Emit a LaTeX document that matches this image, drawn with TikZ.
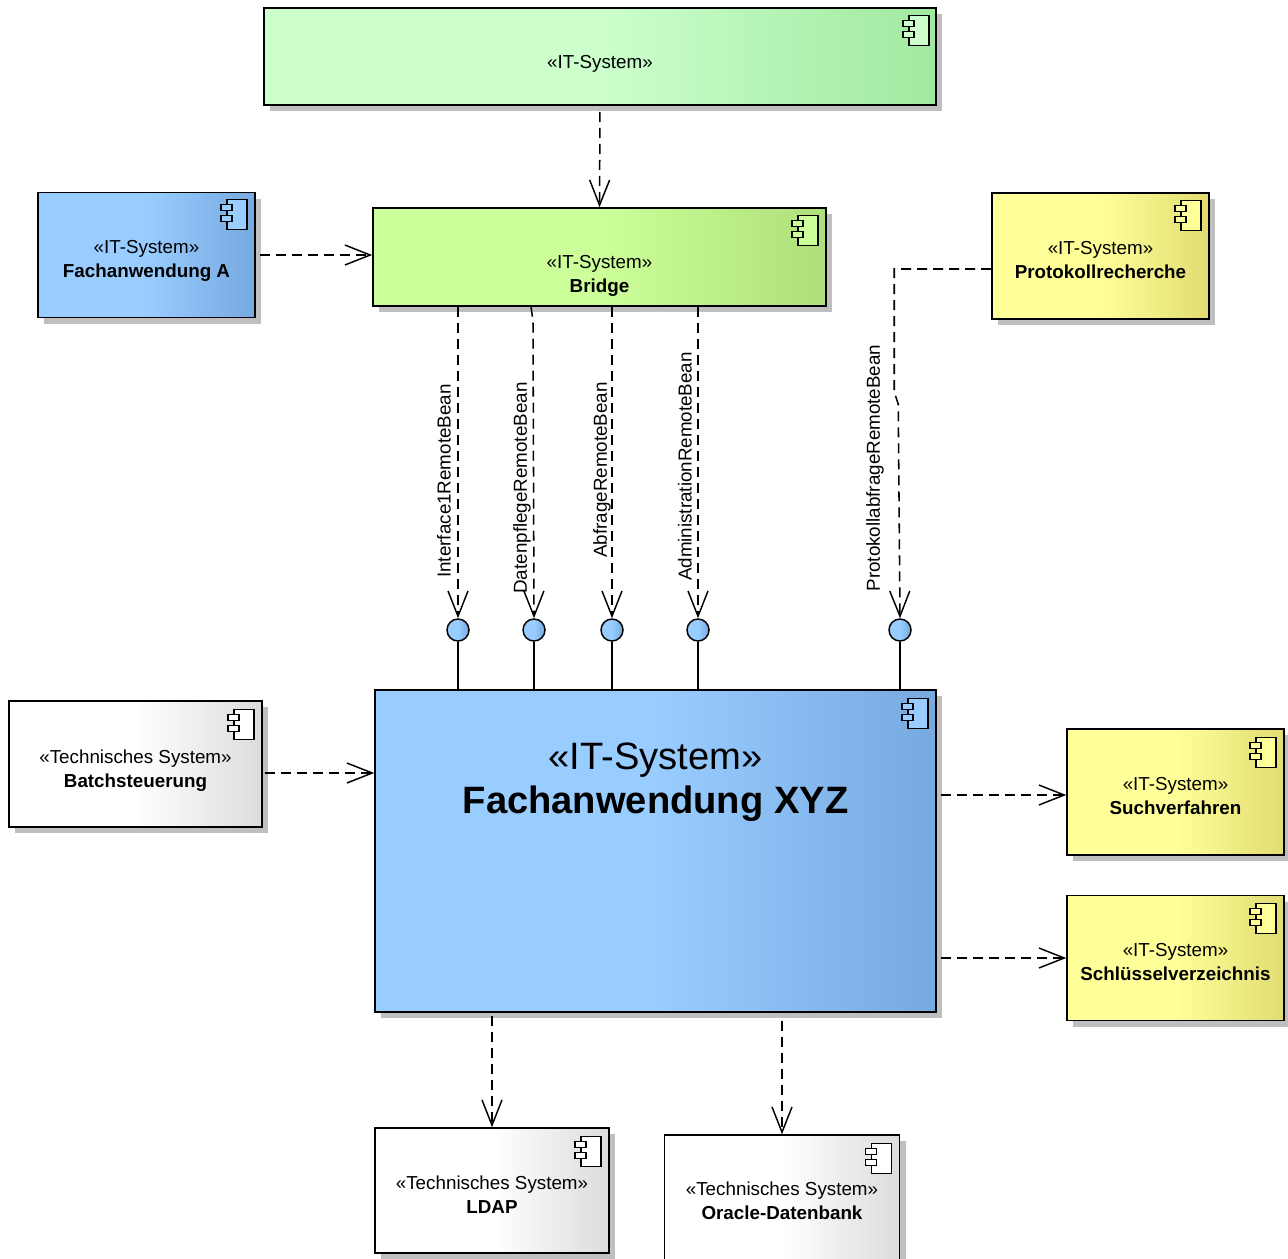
\documentclass[tikz,border=0pt]{standalone}
\usepackage{fontspec}
\setmainfont{Liberation Sans}
\usetikzlibrary{arrows.meta,shadows,calc}
\definecolor{gL}{HTML}{CCFFCC}\definecolor{gR}{HTML}{A0E9A0}
\definecolor{bgL}{HTML}{CCFF99}\definecolor{bgR}{HTML}{AEDF7A}
\definecolor{blL}{HTML}{99CCFF}\definecolor{blR}{HTML}{76AADF}
\definecolor{yL}{HTML}{FFFF99}\definecolor{yR}{HTML}{E1DC72}
\definecolor{wL}{HTML}{FFFFFF}\definecolor{wR}{HTML}{DCDCDC}
\definecolor{shd}{HTML}{BFBFBF}
\tikzset{
  sysbox/.style n args={4}{draw=black, line width=1.15pt, rectangle, inner sep=0pt,
    minimum width=#1, minimum height=#2, left color=#3, right color=#4, middle color=#3,
    general shadow={fill=shd, shadow xshift=4.5pt, shadow yshift=-4.5pt}},
  stxt/.style={align=center, inner sep=0pt, font=\fontsize{14.1}{18}\selectfont},
  bigtxt/.style={align=center, inner sep=0pt, font=\fontsize{28.6}{33}\selectfont},
  lbl/.style={rotate=90, inner sep=0pt, font=\fontsize{14.1}{16}\selectfont},
  iface/.style={circle, draw=black, line width=1.1pt, minimum size=16.5pt, inner sep=0pt,
    left color=blL, right color=blR, middle color=blL},
  dep/.style={draw=black, line width=1.15pt, dash pattern=on 7.5pt off 4.5pt,
    -{Straight Barb[length=19pt,width=15pt,line width=1.1pt]}},
  solidl/.style={draw=black, line width=1.1pt},
  cicon/.pic={
    \path[draw=black, line width=1.1pt, pic actions] (-20,0) rectangle (0,30);
    \path[draw=black, line width=1.1pt, pic actions] (-26,5) rectangle (-15,11);
    \path[draw=black, line width=1.1pt, pic actions] (-26,16) rectangle (-15,22);
  }
}
\begin{document}
\begin{tikzpicture}[x=0.75pt, y=-0.75pt]
\useasboundingbox (0,0) rectangle (1288,1258);

% boxes
\node[sysbox={504pt}{72.75pt}{gL}{gR}] (top) at (600,56.5) {};
\node[stxt] (top-t) at ($(top.north)+(0,57)$) {«IT-System»};
\pic[fill=gL] at ($(top.north east)+(-8,8)$) {cicon};

\node[sysbox={339.75pt}{73.5pt}{bgL}{bgR}] (bridge) at (599.5,257) {};
\node[stxt] (bridge-t) at ($(bridge.north)+(0,69)$) {«IT-System»\\\textbf{Bridge}};
\pic[fill=bgL] at ($(bridge.north east)+(-9,8)$) {cicon};

\node[sysbox={162.75pt}{93.75pt}{blL}{blR}] (fachA) at (146.5,255) {};
\node[stxt] (fachA-t) at ($(fachA.north)+(0,69)$) {«IT-System»\\\textbf{Fachanwendung A}};
\pic[fill=blL] at ($(fachA.north east)+(-9,8)$) {cicon};

\node[sysbox={162.75pt}{94.5pt}{yL}{yR}] (proto) at (1100.5,256) {};
\node[stxt] (proto-t) at ($(proto.north)+(0,68)$) {«IT-System»\\\textbf{Protokollrecherche}};
\pic[fill=yL] at ($(proto.north east)+(-9,8)$) {cicon};

\node[sysbox={189.75pt}{94.5pt}{wL}{wR}] (batch) at (135.5,764) {};
\node[stxt] (batch-t) at ($(batch.north)+(0,70)$) {«Technisches System»\\\textbf{Batchsteuerung}};
\pic[fill=wL] at ($(batch.north east)+(-9,9)$) {cicon};

\node[sysbox={420.75pt}{241.5pt}{blL}{blR}] (main) at (655.5,851) {};
\node[bigtxt] (main-t) at ($(main.north)+(0,93)$) {«IT-System»\\\textbf{Fachanwendung XYZ}};
\pic[fill=blL] at ($(main.north east)+(-9,9)$) {cicon};

\node[sysbox={162.75pt}{94.5pt}{yL}{yR}] (such) at (1175.5,792) {};
\node[stxt] (such-t) at ($(such.north)+(0,67.5)$) {«IT-System»\\\textbf{Suchverfahren}};
\pic[fill=yL] at ($(such.north east)+(-9,9)$) {cicon};

\node[sysbox={162.75pt}{93.75pt}{yL}{yR}] (schl) at (1175.5,958) {};
\node[stxt] (schl-t) at ($(schl.north)+(0,67)$) {«IT-System»\\\textbf{Schlüsselverzeichnis}};
\pic[fill=yL] at ($(schl.north east)+(-9,9)$) {cicon};

\node[sysbox={175.5pt}{93.75pt}{wL}{wR}] (ldap) at (492,1190.5) {};
\node[stxt] (ldap-t) at ($(ldap.north)+(0,67)$) {«Technisches System»\\\textbf{LDAP}};
\pic[fill=wL] at ($(ldap.north east)+(-9,9)$) {cicon};

\node[sysbox={176.25pt}{97.5pt}{wL}{wR}] (oracle) at (782,1200) {};
\node[stxt] (oracle-t) at ($(oracle.north)+(0,67)$) {«Technisches System»\\\textbf{Oracle-Datenbank}};
\pic[fill=wL] at ($(oracle.north east)+(-9,9)$) {cicon};

% provided interfaces
\node[iface] (i1) at (458,630) {};
\node[iface] (i2) at (534,630) {};
\node[iface] (i3) at (612,630) {};
\node[iface] (i4) at (698,630) {};
\node[iface] (i5) at (900,630) {};
\foreach \i in {i1,i2,i3,i4,i5} \draw[solidl] (\i.south) -- (\i.south |- main.north);

% dependencies
\draw[dep, shorten <=4.5pt] (top.south) -- (bridge.north);
\draw[dep, shorten <=3.5pt] (fachA.east) -- (fachA.east -| bridge.west);
\draw[dep] (bridge.south -| i1) -- (i1.north);
\draw[dep] ([xshift=-2.25pt]bridge.south -| i2) -- ++(2,14) -- (i2.north);
\draw[dep] (bridge.south -| i3) -- (i3.north);
\draw[dep] (bridge.south -| i4) -- (i4.north);
\draw[dep] ([yshift=-9.75pt]proto.west) -- ++(-97,0) -- ++(0,123) -- ++(4,12) -- (i5.north);
\draw[dep, shorten <=1.5pt] ([yshift=-6.75pt]batch.east) -- ([yshift=-6.75pt]batch.east -| main.west);
\draw[dep, shorten <=3pt] ([yshift=-2.25pt]such.west -| main.east) -- ([yshift=-2.25pt]such.west);
\draw[dep, shorten <=3pt] (schl.west -| main.east) -- (schl.west);
\draw[dep, shorten <=2.25pt] (main.south -| ldap.north) -- (ldap.north);
\draw[dep, shorten <=6pt] (main.south -| oracle.north) -- (oracle.north);

% labels
\node[lbl] (l1) at (444,481) {Interface1RemoteBean};
\node[lbl] (l2) at (522,488) {DatenpflegeRemoteBean};
\node[lbl] (l3) at (602,470) {AbfrageRemoteBean};
\node[lbl] (l4) at (685,466.5) {AdministrationRemoteBean};
\node[lbl] (l5) at (875,468) {ProtokollabfrageRemoteBean};
\end{tikzpicture}
\end{document}
